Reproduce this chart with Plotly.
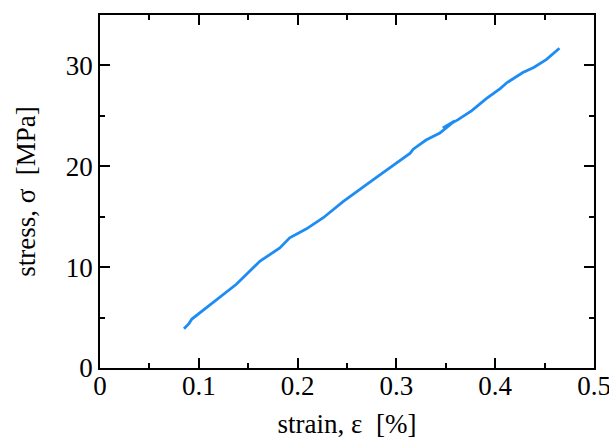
import plotly.graph_objects as go

strain = [0.085, 0.090, 0.093, 0.100, 0.115, 0.138, 0.162, 0.182, 0.192, 0.209,
          0.226, 0.246, 0.277, 0.294, 0.314, 0.317, 0.330, 0.344, 0.359, 0.347,
          0.362, 0.376, 0.391, 0.405, 0.412, 0.428, 0.439, 0.452, 0.465]
stress = [3.9, 4.4, 4.85, 5.4, 6.5, 8.3, 10.6, 11.9, 12.9, 13.8,
          14.9, 16.5, 18.7, 19.9, 21.3, 21.7, 22.6, 23.3, 24.5, 23.8,
          24.6, 25.5, 26.7, 27.7, 28.3, 29.3, 29.8, 30.6, 31.7]

x_ticks = [0, 0.1, 0.2, 0.3, 0.4, 0.5]
x_ticklabels = ["0", "0.1", "0.2", "0.3", "0.4", "0.5"]
y_ticks = [0, 10, 20, 30]
y_ticklabels = ["0", "10", "20", "30"]

font = "Liberation Serif"

fig = go.Figure()
fig.add_trace(go.Scatter(x=strain, y=stress, mode="lines",
                         line=dict(color="#1e8cf5", width=2.8), showlegend=False))

axis_common = dict(
    showgrid=False, zeroline=False, showline=True, linecolor="black", linewidth=1.5,
    mirror="allticks", ticks="inside", ticklen=10, tickwidth=1.5, tickcolor="black",
    tickfont=dict(family=font, size=27, color="black"), automargin=False,
    ticklabeloverflow="allow",
)

fig.update_xaxes(range=[0, 0.5], tickvals=x_ticks, ticktext=x_ticklabels,
                 minor=dict(dtick=0.05, ticks="inside", ticklen=5, tickwidth=1.5, tickcolor="black"),
                 ticklabelstandoff=-7,
                 title=dict(text="strain, ε  [%]",
                            font=dict(family=font, size=27, color="black"), standoff=14),
                 **axis_common)
fig.update_yaxes(range=[0, 35], tickvals=y_ticks, ticktext=y_ticklabels,
                 minor=dict(dtick=5, ticks="inside", ticklen=5, tickwidth=1.5, tickcolor="black"),
                 title=dict(text="stress, σ  [MPa]",
                            font=dict(family=font, size=27, color="black"), standoff=22),
                 **axis_common)

fig.update_layout(width=609, height=439, margin=dict(l=100, r=15, t=15, b=71),
                  plot_bgcolor="white", paper_bgcolor="white")

fig.write_html("out.html")
